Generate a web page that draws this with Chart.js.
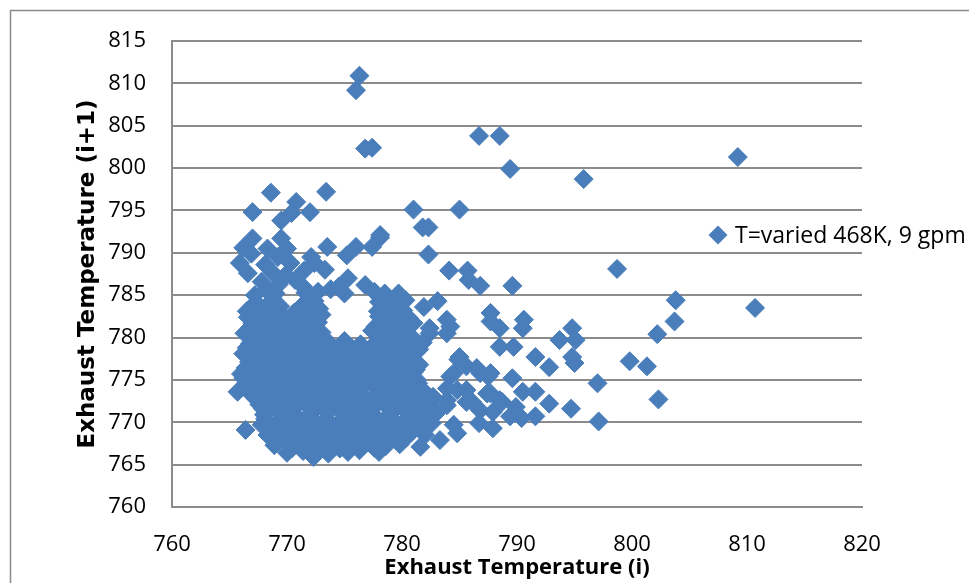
<!DOCTYPE html>
<html>
<head>
<meta charset="utf-8">
<title>Exhaust Temperature return map</title>
<script src="https://cdn.jsdelivr.net/npm/chart.js@4.4.1/dist/chart.umd.min.js"></script>
<style>
  html, body { margin: 0; padding: 0; background: #fff; }
  #wrap { width: 969px; height: 583px; }
</style>
</head>
<body>
<div id="wrap"><canvas id="chart" width="969" height="583"></canvas></div>
<script>
'use strict';

const seriesLabel = 'T=varied 468K, 9 gpm';
const xTicks = [760, 770, 780, 790, 800, 810, 820];
const yTicks = [760, 765, 770, 775, 780, 785, 790, 795, 800, 805, 810, 815];

// scattered readings around the main cloud: T(i) and T(i+1), line by line
const sparseI = [
    776.0, 776.3, 776.8, 777.4, 786.7, 788.5, 789.4, 809.2, 795.8,
    768.6, 773.4, 767.0, 770.8, 772.0, 770.4, 769.5, 781.0, 785.0, 781.8, 782.3, 778.1,
    798.7, 803.8, 810.7, 803.7, 802.2, 799.8, 801.3, 802.3, 797.0, 797.1, 794.7,
    782.3, 784.1, 785.7, 785.8, 786.8, 789.6, 783.1, 787.7, 787.7, 788.5, 790.6, 790.5, 794.8, 793.7, 795.1, 788.5, 789.7, 791.6, 792.8, 794.8, 795.0,
    789.6, 790.5, 791.6, 792.8, 791.6, 790.4, 789.4, 787.9, 786.7, 787.9, 788.5, 787.7, 786.1, 784.9, 785.6, 786.8, 784.2, 784.8, 787.5, 783.9, 783.0, 781.6, 783.3, 784.8, 784.5, 780.1,
    782.4, 783.9, 785.0, 784.5, 786.5, 787.7, 783.9, 785.6, 787.4, 788.7, 789.9, 785.6, 783.9, 782.7, 786.8,
    780.3, 781.9, 780.1, 783.9, 784.2, 782.4, 781.0, 780.7,
    767.0, 766.2, 768.3, 769.5, 770.0, 769.2, 765.9, 766.6, 768.1, 768.8, 770.3, 772.1, 773.5, 773.3, 772.4,
    775.2, 776.0, 777.4, 778.1, 770.7, 771.4, 774.5, 775.3, 776.8, 767.2, 769.0, 772.7, 775.0, 778.5, 779.7,
    767.8, 769.9, 766.9, 771.5, 769.3,
    766.4, 765.7
];
const sparseNext = [
    809.2, 810.9, 802.3, 802.4, 803.8, 803.8, 799.9, 801.3, 798.7,
    797.1, 797.2, 794.8, 796.0, 794.8, 794.7, 793.8, 795.1, 795.1, 793.0, 793.0, 792.1,
    788.1, 784.4, 783.5, 781.9, 780.4, 777.2, 776.6, 772.7, 774.6, 770.1, 771.6,
    789.8, 787.9, 787.9, 786.8, 786.1, 786.1, 784.3, 782.9, 781.9, 781.1, 782.1, 781.1, 781.1, 779.7, 779.7, 778.9, 778.9, 777.7, 776.5, 777.7, 777.0,
    775.2, 773.6, 773.6, 772.2, 770.7, 770.5, 770.7, 769.3, 769.9, 771.2, 772.6, 773.4, 772.4, 777.4, 776.6, 775.8, 775.4, 773.8, 775.4, 772.6, 771.1, 767.1, 767.9, 768.7, 769.7, 768.7,
    780.5, 780.5, 777.7, 775.8, 776.4, 775.8, 774.0, 773.8, 773.4, 772.4, 771.8, 772.4, 772.0, 773.0, 771.4,
    784.4, 783.6, 783.2, 782.1, 781.3, 781.1, 781.7, 780.1,
    791.7, 790.6, 790.5, 791.7, 790.5, 789.5, 788.8, 787.6, 788.6, 787.6, 788.8, 789.5, 790.7, 788.0, 788.8,
    789.7, 790.7, 790.7, 791.8, 786.8, 786.0, 786.0, 787.0, 786.2, 785.0, 785.2, 785.4, 785.2, 785.2, 785.2,
    786.6, 787.4, 789.9, 787.9, 786.3,
    769.1, 773.6
];

// the dense cloud, one line per band of T(i+1)
const clusterI = [
    768.2, 771.6, 773.8, 777.6,
    767.3, 768.7, 771.5, 772.4, 778.0, 779.3,
    766.9, 768.1, 769.4, 771.2, 772.8, 778.6,
    766.5, 767.8, 769.2, 770.6, 772.0, 773.0, 777.9, 779.0,
    766.6, 768.0, 769.5, 770.9, 772.3, 778.0, 779.3, 780.6,
    767.0, 768.5, 769.8, 771.3, 772.7, 778.4, 779.6,
    766.8, 768.2, 769.6, 770.9, 772.3, 777.7, 779.1, 780.4,
    766.3, 767.6, 769.0, 770.4, 771.8, 773.0, 777.4, 778.7, 780.1,
    767.1, 768.4, 769.8, 771.2, 772.6, 778.1, 779.5, 780.9,
    766.8, 768.2, 769.5, 770.9, 772.3, 773.7, 775.0, 776.4, 777.8, 779.2, 780.6, 781.8,
    766.5, 767.9, 769.2, 770.6, 772.0, 773.4, 774.8, 776.1, 777.5, 778.9, 780.3, 781.5,
    766.2, 767.5, 768.9, 770.2, 771.6, 773.0, 774.4, 775.8, 777.1, 778.5, 779.9, 781.2,
    767.0, 768.3, 769.7, 771.1, 772.5, 773.9, 775.2, 776.6, 778.0, 779.4, 780.8,
    766.7, 768.0, 769.4, 770.8, 772.1, 773.5, 774.9, 776.3, 777.6, 779.0, 780.4, 781.5,
    766.4, 767.7, 769.1, 770.5, 771.9, 773.2, 774.6, 776.0, 777.3, 778.7, 780.0, 781.2,
    766.0, 767.3, 768.7, 770.1, 771.4, 772.8, 774.2, 775.6, 776.9, 778.3, 779.7, 781.0,
    766.2, 767.6, 768.9, 770.3, 771.7, 773.1, 774.5, 775.9, 777.2, 778.6, 780.0, 781.3,
    766.5, 767.9, 769.3, 770.6, 772.0, 773.4, 774.8, 776.1, 777.5, 778.9, 780.2, 781.4,
    766.7, 768.1, 769.5, 770.9, 772.2, 773.6, 775.0, 776.4, 777.7, 779.1, 780.5, 781.8,
    766.9, 768.3, 769.7, 771.0, 772.4, 773.8, 775.2, 776.5, 777.9, 779.3, 780.6, 781.9,
    767.3, 768.6, 770.0, 771.4, 772.8, 774.1, 775.5, 776.9, 778.2, 779.6, 781.0, 782.1,
    767.6, 768.9, 770.3, 771.7, 773.0, 774.4, 775.8, 777.2, 778.5, 779.9, 781.2, 782.4,
    767.9, 769.2, 770.6, 772.0, 773.3, 774.7, 776.1, 777.4, 778.8, 780.2, 781.5, 782.7,
    768.0, 769.4, 770.8, 772.1, 773.5, 774.9, 776.3, 777.6, 779.0, 780.4, 781.7,
    768.1, 769.5, 770.9, 772.2, 773.6, 775.0, 776.4, 777.7, 779.1, 780.5, 781.9,
    767.8, 769.1, 770.5, 771.9, 773.2, 774.6, 776.0, 777.3, 778.7, 780.1, 781.4, 782.6,
    768.5, 769.9, 771.3, 772.7, 774.1, 775.4, 776.8, 778.2, 779.6, 781.0,
    768.3, 769.7, 771.1, 772.4, 773.8, 775.2, 776.6, 777.9, 779.3, 780.8, 782.0,
    769.2, 770.6, 772.0, 773.4, 774.8, 776.2, 777.5, 778.9, 780.3,
    768.9, 770.3, 771.6, 773.0, 774.4, 775.8, 777.2, 778.6, 779.8,
    770.4, 771.9, 773.2, 774.6, 776.3, 777.6,
    770.0, 771.4, 772.3, 773.6, 775.3, 778.0
];
const clusterNext = [
    785.6, 785.3, 785.7, 785.4,
    784.1, 784.4, 784.0, 784.3, 784.2, 784.0,
    783.6, 783.5, 783.7, 783.6, 783.4, 783.6,
    783.1, 782.8, 783.2, 782.9, 783.0, 782.7, 783.1, 782.8,
    782.4, 782.3, 782.5, 782.4, 782.2, 782.5, 782.4, 782.3,
    781.7, 781.9, 781.6, 782.0, 781.8, 781.7, 782.0,
    781.2, 781.1, 781.3, 781.2, 781.0, 781.3, 781.1, 781.2,
    780.5, 780.8, 780.4, 780.7, 780.5, 780.6, 780.8, 780.4, 780.6,
    780.0, 779.9, 780.1, 780.0, 779.8, 780.1, 779.9, 780.0,
    779.3, 779.6, 779.2, 779.5, 779.4, 779.3, 779.6, 779.2, 779.5, 779.3, 779.6, 779.4,
    778.8, 778.7, 778.9, 778.8, 778.6, 778.9, 778.7, 778.8, 778.9, 778.7, 778.8, 778.6,
    778.1, 778.3, 778.0, 778.4, 778.2, 778.1, 778.3, 778.0, 778.2, 778.4, 778.1, 778.3,
    777.6, 777.5, 777.7, 777.6, 777.4, 777.7, 777.5, 777.6, 777.7, 777.5, 777.6,
    777.1, 776.8, 777.0, 777.2, 776.9, 777.1, 776.8, 777.0, 777.2, 776.9, 777.1, 776.8,
    776.4, 776.3, 776.5, 776.4, 776.2, 776.5, 776.3, 776.4, 776.5, 776.3, 776.4, 776.2,
    775.7, 775.9, 775.6, 775.8, 776.0, 775.7, 775.9, 775.6, 775.8, 776.0, 775.7, 775.9,
    775.2, 775.1, 775.3, 775.2, 775.0, 775.3, 775.1, 775.2, 775.3, 775.1, 775.2, 775.0,
    774.5, 774.7, 774.4, 774.6, 774.8, 774.5, 774.7, 774.4, 774.6, 774.8, 774.5, 774.6,
    774.0, 773.9, 774.1, 774.0, 773.8, 774.1, 773.9, 774.0, 774.1, 773.9, 774.0, 773.8,
    773.3, 773.5, 773.2, 773.4, 773.6, 773.3, 773.5, 773.2, 773.4, 773.6, 773.3, 773.5,
    772.8, 772.7, 772.9, 772.8, 772.6, 772.9, 772.7, 772.8, 772.9, 772.7, 772.8, 772.6,
    772.1, 772.3, 772.0, 772.2, 772.4, 772.1, 772.3, 772.0, 772.2, 772.4, 772.1, 772.3,
    771.6, 771.5, 771.7, 771.6, 771.4, 771.7, 771.5, 771.6, 771.7, 771.5, 771.6, 771.4,
    770.9, 771.1, 770.8, 771.0, 771.2, 770.9, 771.1, 770.8, 771.0, 771.2, 770.9,
    770.4, 770.3, 770.5, 770.4, 770.2, 770.5, 770.3, 770.4, 770.5, 770.3, 770.4,
    769.7, 769.9, 769.6, 769.8, 770.0, 769.7, 769.9, 769.6, 769.8, 770.0, 769.7, 769.9,
    769.2, 769.1, 769.3, 769.2, 769.0, 769.3, 769.1, 769.2, 769.3, 769.1,
    768.5, 768.7, 768.4, 768.6, 768.8, 768.5, 768.7, 768.4, 768.6, 768.8, 768.5,
    768.0, 767.9, 768.1, 768.0, 767.8, 768.1, 767.9, 768.0, 768.1,
    767.3, 767.5, 767.2, 767.4, 767.6, 767.3, 767.5, 767.2, 767.4,
    766.9, 766.8, 767.0, 766.9, 766.7, 767.0,
    766.4, 766.6, 765.9, 766.3, 766.5, 766.5
];

const markerColor = '#4a7ebb';
const gridColor = '#8c8c8c';

const allI = sparseI.concat(clusterI);
const allNext = sparseNext.concat(clusterNext);
const points = allI.map((x, i) => ({ x: x, y: allNext[i] }));

Chart.defaults.font.family = "'Open Sans', 'Liberation Sans', sans-serif";
Chart.defaults.color = '#000';

// white page with the grey outer frame
const frame = {
    id: 'frame',
    beforeDraw(chart) {
        const ctx = chart.ctx;
        ctx.save();
        ctx.fillStyle = '#fff';
        ctx.fillRect(0, 0, chart.width, chart.height);
        ctx.strokeStyle = '#8a8a8a';
        ctx.lineWidth = 1.5;
        ctx.strokeRect(10.5, 10.5, chart.width + 20, chart.height + 20);
        ctx.restore();
    }
};

// single-entry legend that sits over the right edge of the plot
const sideLegend = {
    id: 'sideLegend',
    afterDraw(chart, args, opts) {
        const ctx = chart.ctx;
        const area = chart.chartArea;
        const ds = chart.data.datasets[0];
        const mx = area.right + opts.dx;
        const my = area.top + opts.dy;
        const r = opts.radius;
        ctx.save();
        ctx.fillStyle = ds.backgroundColor;
        ctx.beginPath();
        ctx.moveTo(mx - r, my);
        ctx.lineTo(mx, my - r);
        ctx.lineTo(mx + r, my);
        ctx.lineTo(mx, my + r);
        ctx.closePath();
        ctx.fill();
        ctx.fillStyle = '#000';
        ctx.font = opts.font;
        ctx.textBaseline = 'middle';
        ctx.fillText(ds.label, mx + opts.gap, my + 1);
        ctx.restore();
    }
};

const ctx = document.getElementById('chart').getContext('2d');
const myChart = new Chart(ctx, {
    type: 'scatter',
    data: {
        datasets: [
            {
                label: seriesLabel,
                data: points,
                pointStyle: 'rectRot',
                pointRadius: 9.5,
                pointHoverRadius: 9.5,
                borderWidth: 1,
                backgroundColor: markerColor,
                borderColor: markerColor
            }
        ]
    },
    options: {
        responsive: false,
        animation: false,
        devicePixelRatio: 1,
        layout: {
            padding: { left: 0, top: 41, right: 107, bottom: 0 }
        },
        plugins: {
            legend: { display: false },
            tooltip: { enabled: false },
            sideLegend: {
                dx: -144,
                dy: 194,
                radius: 9.5,
                gap: 17,
                font: "23px 'Open Sans', 'Liberation Sans', sans-serif"
            }
        },
        scales: {
            x: {
                type: 'linear',
                min: 760,
                max: 820,
                afterBuildTicks: scale => { scale.ticks = xTicks.map(v => ({ value: v })); },
                afterFit: scale => { scale.height = 76; },
                grid: { display: false, drawTicks: false },
                border: { display: true, color: gridColor, width: 2 },
                ticks: { padding: 25, font: { size: 22 } },
                title: {
                    display: true,
                    text: 'Exhaust Temperature (i)',
                    font: { size: 22, weight: 'bold' },
                    padding: { top: 0, bottom: 2 }
                }
            },
            y: {
                type: 'linear',
                min: 760,
                max: 815,
                afterBuildTicks: scale => { scale.ticks = yTicks.map(v => ({ value: v })); },
                afterFit: scale => { scale.width = 172; },
                grid: { color: gridColor, lineWidth: 2, drawTicks: false },
                border: { display: true, color: gridColor, width: 2 },
                ticks: { padding: 26, font: { size: 22 } },
                title: {
                    display: true,
                    text: 'Exhaust Temperature (i+1)',
                    font: { family: "'DejaVu Sans', sans-serif", size: 23, weight: 'bold' },
                    padding: { top: 74, bottom: 0 }
                }
            }
        }
    },
    plugins: [frame, sideLegend]
});
</script>
</body>
</html>
